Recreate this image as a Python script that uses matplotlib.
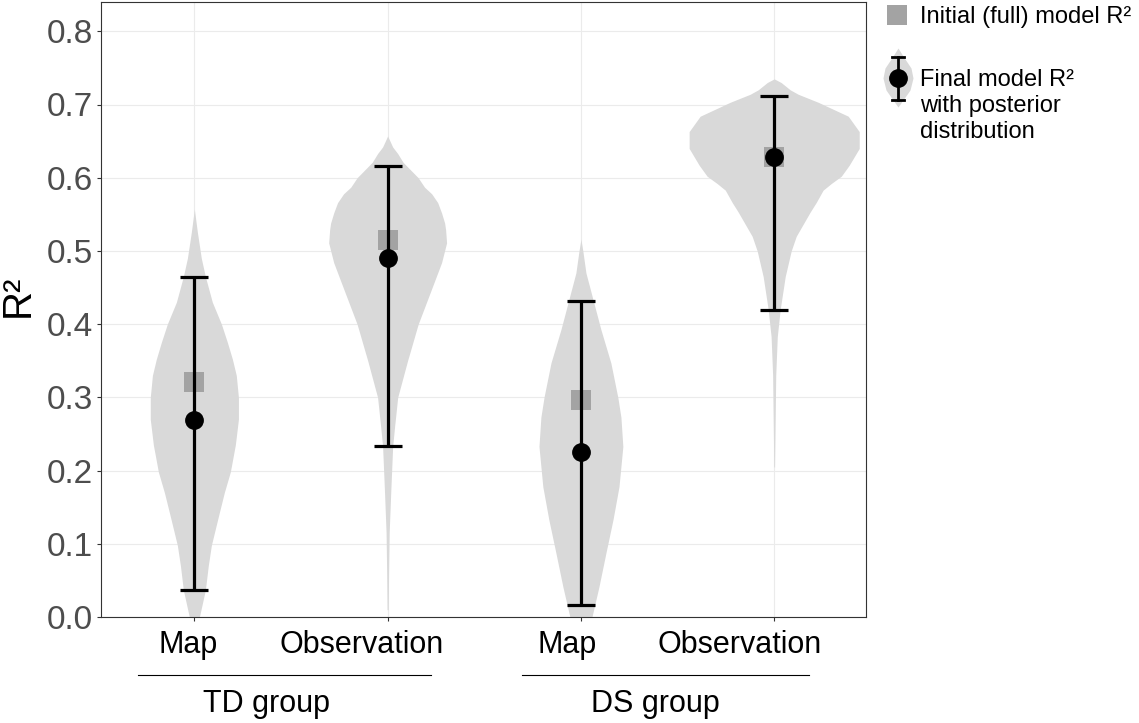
import matplotlib
matplotlib.use('Agg')
import matplotlib.pyplot as plt
import numpy as np

plt.rcParams['font.family'] = ['Liberation Sans', 'DejaVu Sans']

# categories
conditions = ['Map', 'Observation', 'Map', 'Observation']
groups = ['TD group', 'DS group']
xpos = [1, 2, 3, 4]
# where the condition labels sit (they are not centred on the ticks)
label_x = [0.970, 1.866, 2.928, 3.823]

# initial (full) model R2 (squares)
initial_r2 = [0.321, 0.515, 0.297, 0.628]
# final model R2 with interval
final_r2 = [0.269, 0.490, 0.226, 0.628]
final_lo = [0.037, 0.233, 0.016, 0.420]
final_hi = [0.465, 0.616, 0.431, 0.712]

# posterior violin outlines: R2 levels and half widths (in x units)
td_map_y = [0.0, 0.037, 0.07, 0.098, 0.137, 0.17, 0.198, 0.235, 0.27, 0.30, 0.33, 0.352, 0.375, 0.40, 0.43, 0.465, 0.49, 0.525, 0.557]
td_map_w = [0.026, 0.057, 0.072, 0.088, 0.124, 0.155, 0.186, 0.212, 0.228, 0.228, 0.217, 0.197, 0.171, 0.140, 0.093, 0.057, 0.036, 0.016, 0.0]
td_obs_y = [0.01, 0.06, 0.115, 0.17, 0.233, 0.26, 0.30, 0.35, 0.40, 0.452, 0.484, 0.511, 0.529, 0.538, 0.552, 0.566, 0.578, 0.587, 0.60, 0.621, 0.633, 0.642, 0.657]
td_obs_w = [0.003, 0.005, 0.008, 0.016, 0.026, 0.036, 0.052, 0.103, 0.158, 0.233, 0.279, 0.305, 0.300, 0.295, 0.279, 0.259, 0.228, 0.191, 0.158, 0.080, 0.052, 0.026, 0.0]
ds_map_y = [-0.01, 0.0, 0.041, 0.087, 0.133, 0.178, 0.233, 0.273, 0.30, 0.347, 0.393, 0.434, 0.47, 0.50, 0.516]
ds_map_w = [0.057, 0.057, 0.093, 0.129, 0.166, 0.197, 0.217, 0.207, 0.191, 0.155, 0.103, 0.062, 0.026, 0.010, 0.0]
ds_obs_y = [0.205, 0.33, 0.383, 0.42, 0.465, 0.50, 0.52, 0.553, 0.566, 0.583, 0.592, 0.602, 0.617, 0.64, 0.663, 0.684, 0.703, 0.714, 0.72, 0.73, 0.735]
ds_obs_w = [0.002, 0.008, 0.016, 0.031, 0.057, 0.088, 0.114, 0.186, 0.217, 0.253, 0.295, 0.347, 0.388, 0.440, 0.440, 0.383, 0.228, 0.124, 0.083, 0.036, 0.0]

violins = [(td_map_y, td_map_w), (td_obs_y, td_obs_w), (ds_map_y, ds_map_w), (ds_obs_y, ds_obs_w)]

fig = plt.figure(figsize=(11.39, 7.23), dpi=100)
ax = fig.add_axes([101 / 1139, 106 / 723, 765 / 1139, 615 / 723])

for x, (vy, vw) in zip(xpos, violins):
    vy = np.array(vy)
    vw = np.array(vw)
    ax.fill_betweenx(vy, x - vw, x + vw, color='#D9D9D9', lw=0, zorder=2)

ax.plot(xpos, initial_r2, 's', color='#A3A3A3', ms=15, mew=0, zorder=3)
yerr = [np.array(final_r2) - np.array(final_lo), np.array(final_hi) - np.array(final_r2)]
ax.errorbar(xpos, final_r2, yerr=yerr, fmt='none', ecolor='black', elinewidth=2.3,
            capsize=10, capthick=2.3, zorder=4)
ax.plot(xpos, final_r2, 'o', color='black', ms=12.5, zorder=5)

ax.set_xlim(0.517, 4.475)
ax.set_ylim(0, 0.84)
ax.set_yticks(np.arange(0, 0.81, 0.1))
ax.set_yticklabels([f'{v:.1f}' for v in np.arange(0, 0.81, 0.1)])
ax.set_xticks(xpos)
ax.set_xticklabels([])
ax.grid(True, color='#EBEBEB', lw=0.8)
ax.set_axisbelow(True)
for s in ax.spines.values():
    s.set_color('#333333')
    s.set_linewidth(0.8)
ax.tick_params(axis='y', labelsize=24, labelcolor='#4D4D4D', color='#333333', length=3, width=0.8, pad=3)
ax.tick_params(axis='x', color='#333333', length=3, width=0.8)

trans = ax.get_xaxis_transform()
for lx, name in zip(label_x, conditions):
    ax.text(lx, -0.0585, name, fontsize=22, ha='center', va='baseline', transform=trans)

# group labels under the condition labels
group_lines = [(0.709, 2.225), (2.697, 4.182)]
group_centers = [1.371, 3.383]
for name, (x0, x1), xc in zip(groups, group_lines, group_centers):
    ax.plot([x0, x1], [-0.094, -0.094], color='black', lw=0.8, transform=trans, clip_on=False)
    ax.text(xc, -0.1545, name, fontsize=22, ha='center', va='baseline', transform=trans)

fig.text(18 / 1139, 1 - 296 / 723, 'R²', fontsize=29, rotation=90, ha='center', va='center')

# legend drawn in pixel coordinates
lax = fig.add_axes([0, 0, 1, 1], zorder=-1)
lax.set_xlim(0, 1139)
lax.set_ylim(723, 0)
lax.axis('off')
lax.plot([897], [15], 's', color='#A3A3A3', ms=14.5, mew=0)
lax.text(920, 23, 'Initial (full) model R²', fontsize=17, va='baseline')
key_y = [48, 56, 68, 78, 90, 100, 107]
key_w = [0, 5, 13, 15, 12, 5, 0]
kx = 898
lax.fill_betweenx(key_y, [kx - w for w in key_w], [kx + w for w in key_w], color='#D9D9D9', lw=0)
lax.plot([kx, kx], [57, 100], color='black', lw=2)
lax.plot([kx - 6, kx + 6], [57, 57], color='black', lw=2)
lax.plot([kx - 6, kx + 6], [100, 100], color='black', lw=2)
lax.plot([kx], [78], 'o', color='black', ms=12.5)
lax.text(920, 86, 'Final model R²', fontsize=17, va='baseline')
lax.text(920, 112, 'with posterior', fontsize=17, va='baseline')
lax.text(920, 138, 'distribution', fontsize=17, va='baseline')

fig.savefig('out.png', dpi=100)
